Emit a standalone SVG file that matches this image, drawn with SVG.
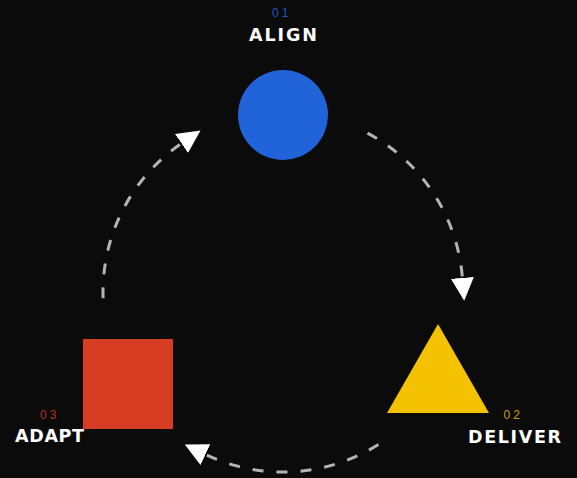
<svg xmlns="http://www.w3.org/2000/svg" width="577" height="478" viewBox="0 0 577 478">
<defs>
<marker id="arr" viewBox="0 0 10 10" refX="0" refY="5" markerUnits="userSpaceOnUse" markerWidth="23" markerHeight="23" orient="auto">
<path d="M0,0 L10,5 L0,10 z" fill="#ffffff"/>
</marker>
<style>
.lbl{font-family:"DejaVu Sans",Verdana,sans-serif;font-weight:bold;font-size:17.5px;fill:#ffffff}
.num{font-family:"Liberation Sans",Arial,sans-serif;font-size:12px;letter-spacing:3px}
.arc{fill:none;stroke:#b4b4b4;stroke-width:3;stroke-dasharray:11 13;marker-end:url(#arr)}
</style>
</defs>
<rect width="577" height="478" fill="#0b0b0b"/>
<g id="connectors">
<path class="arc" d="M367.5,133.1 A180,180 0 0 1 462.4,277.9"/>
<path class="arc" d="M378.4,444.6 A180,180 0 0 1 205.5,454.5"/>
<path class="arc" d="M103.1,298.3 A180,180 0 0 1 181.5,143.4"/>
</g>
<g id="align">
<circle cx="283" cy="115" r="45" fill="#2163d9"/>
<text class="num" x="272" y="16.8" fill="#2156c0">01</text>
<text class="lbl" x="249" y="40.7" textLength="68" lengthAdjust="spacing">ALIGN</text>
</g>
<g id="deliver">
<polygon points="438,324 387,413 489,413" fill="#f5c200"/>
<text class="num" x="503.5" y="418.5" fill="#c9a000">02</text>
<text class="lbl" x="468" y="443.3" textLength="93" lengthAdjust="spacing">DELIVER</text>
</g>
<g id="adapt">
<rect x="83" y="339" width="90" height="90" fill="#d63d23"/>
<text class="num" x="40" y="418.5" fill="#b23020">03</text>
<text class="lbl" x="15" y="442.2" textLength="69" lengthAdjust="spacing">ADAPT</text>
</g>
</svg>
